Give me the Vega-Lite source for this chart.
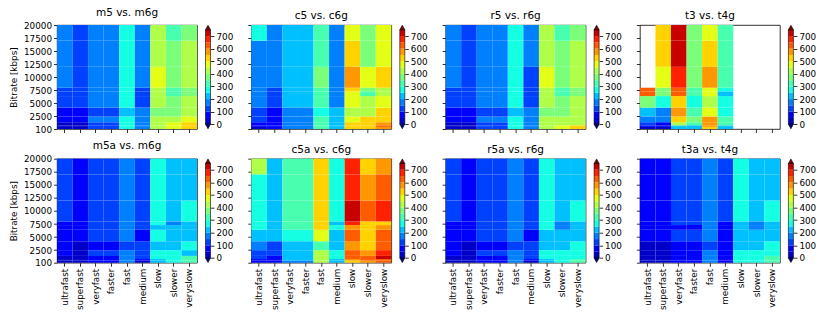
{
"$schema": "https://vega.github.io/schema/vega-lite/v6.json",
"padding": {"left": 9, "top": 7, "right": 5, "bottom": 5},
"config": {
 "font": "DejaVu Sans",
 "view": {"stroke": "#000", "strokeWidth": 0.8},
 "axis": {"grid": false, "domain": false, "ticks": true, "tickColor": "#000", "tickSize": 3.5, "tickWidth": 0.8, "labelColor": "#000", "labelFontSize": 8.8, "labelFont": "DejaVu Sans", "labelPadding": 2, "labelFlush": false, "labelOverlap": false, "titleFont": "DejaVu Sans", "titleFontSize": 8.8, "titleFontWeight": "normal", "titleColor": "#000", "titlePadding": 5},
 "title": {"font": "DejaVu Sans", "fontSize": 10.5, "fontWeight": "normal", "color": "#000", "offset": 3}
},
"datasets": {
 "bands": [{"b":0,"lo":100,"hi":500},{"b":1,"lo":500,"hi":800},{"b":2,"lo":800,"hi":1400},{"b":3,"lo":1400,"hi":2500},{"b":4,"lo":2500,"hi":4200},{"b":5,"lo":4200,"hi":6400},{"b":6,"lo":6400,"hi":7300},{"b":7,"lo":7300,"hi":8000},{"b":8,"lo":8000,"hi":12000},{"b":9,"lo":12000,"hi":17000},{"b":10,"lo":17000,"hi":20000}],
 "cbar": [{"v":0,"v2":50},{"v":50,"v2":100},{"v":100,"v2":150},{"v":150,"v2":200},{"v":200,"v2":250},{"v":250,"v2":300},{"v":300,"v2":350},{"v":350,"v2":400},{"v":400,"v2":450},{"v":450,"v2":500},{"v":500,"v2":550},{"v":550,"v2":600},{"v":600,"v2":650},{"v":650,"v2":700},{"v":700,"v2":750}],
 "m5": [
{"p":"ultrafast","b":0,"v":25},{"p":"ultrafast","b":1,"v":25},{"p":"ultrafast","b":2,"v":25},{"p":"ultrafast","b":3,"v":75},{"p":"ultrafast","b":4,"v":75},{"p":"ultrafast","b":5,"v":125},{"p":"ultrafast","b":6,"v":125},{"p":"ultrafast","b":7,"v":125},{"p":"ultrafast","b":8,"v":175},{"p":"ultrafast","b":9,"v":175},{"p":"ultrafast","b":10,"v":175},
{"p":"superfast","b":0,"v":25},{"p":"superfast","b":1,"v":25},{"p":"superfast","b":2,"v":25},{"p":"superfast","b":3,"v":75},{"p":"superfast","b":4,"v":75},{"p":"superfast","b":5,"v":125},{"p":"superfast","b":6,"v":125},{"p":"superfast","b":7,"v":125},{"p":"superfast","b":8,"v":125},{"p":"superfast","b":9,"v":125},{"p":"superfast","b":10,"v":125},
{"p":"veryfast","b":0,"v":125},{"p":"veryfast","b":1,"v":125},{"p":"veryfast","b":2,"v":125},{"p":"veryfast","b":3,"v":175},{"p":"veryfast","b":4,"v":125},{"p":"veryfast","b":5,"v":175},{"p":"veryfast","b":6,"v":175},{"p":"veryfast","b":7,"v":175},{"p":"veryfast","b":8,"v":175},{"p":"veryfast","b":9,"v":175},{"p":"veryfast","b":10,"v":175},
{"p":"faster","b":0,"v":125},{"p":"faster","b":1,"v":125},{"p":"faster","b":2,"v":125},{"p":"faster","b":3,"v":175},{"p":"faster","b":4,"v":125},{"p":"faster","b":5,"v":175},{"p":"faster","b":6,"v":175},{"p":"faster","b":7,"v":175},{"p":"faster","b":8,"v":175},{"p":"faster","b":9,"v":175},{"p":"faster","b":10,"v":175},
{"p":"fast","b":0,"v":275},{"p":"fast","b":1,"v":275},{"p":"fast","b":2,"v":275},{"p":"fast","b":3,"v":275},{"p":"fast","b":4,"v":225},{"p":"fast","b":5,"v":275},{"p":"fast","b":6,"v":275},{"p":"fast","b":7,"v":275},{"p":"fast","b":8,"v":275},{"p":"fast","b":9,"v":275},{"p":"fast","b":10,"v":275},
{"p":"medium","b":0,"v":175},{"p":"medium","b":1,"v":175},{"p":"medium","b":2,"v":175},{"p":"medium","b":3,"v":175},{"p":"medium","b":4,"v":175},{"p":"medium","b":5,"v":125},{"p":"medium","b":6,"v":125},{"p":"medium","b":7,"v":125},{"p":"medium","b":8,"v":175},{"p":"medium","b":9,"v":175},{"p":"medium","b":10,"v":175},
{"p":"slow","b":0,"v":425},{"p":"slow","b":1,"v":425},{"p":"slow","b":2,"v":425},{"p":"slow","b":3,"v":425},{"p":"slow","b":4,"v":375},{"p":"slow","b":5,"v":425},{"p":"slow","b":6,"v":425},{"p":"slow","b":7,"v":425},{"p":"slow","b":8,"v":475},{"p":"slow","b":9,"v":425},{"p":"slow","b":10,"v":425},
{"p":"slower","b":0,"v":475},{"p":"slower","b":1,"v":475},{"p":"slower","b":2,"v":475},{"p":"slower","b":3,"v":425},{"p":"slower","b":4,"v":375},{"p":"slower","b":5,"v":375},{"p":"slower","b":6,"v":325},{"p":"slower","b":7,"v":325},{"p":"slower","b":8,"v":375},{"p":"slower","b":9,"v":375},{"p":"slower","b":10,"v":325},
{"p":"veryslow","b":0,"v":525},{"p":"veryslow","b":1,"v":525},{"p":"veryslow","b":2,"v":525},{"p":"veryslow","b":3,"v":475},{"p":"veryslow","b":4,"v":425},{"p":"veryslow","b":5,"v":425},{"p":"veryslow","b":6,"v":375},{"p":"veryslow","b":7,"v":375},{"p":"veryslow","b":8,"v":425},{"p":"veryslow","b":9,"v":425},{"p":"veryslow","b":10,"v":375}],
 "c5": [
{"p":"ultrafast","b":0,"v":25},{"p":"ultrafast","b":1,"v":75},{"p":"ultrafast","b":2,"v":75},{"p":"ultrafast","b":3,"v":125},{"p":"ultrafast","b":4,"v":125},{"p":"ultrafast","b":5,"v":175},{"p":"ultrafast","b":6,"v":175},{"p":"ultrafast","b":7,"v":175},{"p":"ultrafast","b":8,"v":175},{"p":"ultrafast","b":9,"v":175},{"p":"ultrafast","b":10,"v":275},
{"p":"superfast","b":0,"v":75},{"p":"superfast","b":1,"v":75},{"p":"superfast","b":2,"v":75},{"p":"superfast","b":3,"v":75},{"p":"superfast","b":4,"v":75},{"p":"superfast","b":5,"v":125},{"p":"superfast","b":6,"v":125},{"p":"superfast","b":7,"v":125},{"p":"superfast","b":8,"v":175},{"p":"superfast","b":9,"v":175},{"p":"superfast","b":10,"v":175},
{"p":"veryfast","b":0,"v":175},{"p":"veryfast","b":1,"v":175},{"p":"veryfast","b":2,"v":175},{"p":"veryfast","b":3,"v":175},{"p":"veryfast","b":4,"v":175},{"p":"veryfast","b":5,"v":225},{"p":"veryfast","b":6,"v":225},{"p":"veryfast","b":7,"v":225},{"p":"veryfast","b":8,"v":225},{"p":"veryfast","b":9,"v":225},{"p":"veryfast","b":10,"v":225},
{"p":"faster","b":0,"v":175},{"p":"faster","b":1,"v":175},{"p":"faster","b":2,"v":175},{"p":"faster","b":3,"v":175},{"p":"faster","b":4,"v":175},{"p":"faster","b":5,"v":225},{"p":"faster","b":6,"v":225},{"p":"faster","b":7,"v":225},{"p":"faster","b":8,"v":225},{"p":"faster","b":9,"v":225},{"p":"faster","b":10,"v":225},
{"p":"fast","b":0,"v":325},{"p":"fast","b":1,"v":325},{"p":"fast","b":2,"v":325},{"p":"fast","b":3,"v":325},{"p":"fast","b":4,"v":275},{"p":"fast","b":5,"v":325},{"p":"fast","b":6,"v":325},{"p":"fast","b":7,"v":325},{"p":"fast","b":8,"v":375},{"p":"fast","b":9,"v":325},{"p":"fast","b":10,"v":325},
{"p":"medium","b":0,"v":225},{"p":"medium","b":1,"v":225},{"p":"medium","b":2,"v":225},{"p":"medium","b":3,"v":225},{"p":"medium","b":4,"v":225},{"p":"medium","b":5,"v":175},{"p":"medium","b":6,"v":175},{"p":"medium","b":7,"v":175},{"p":"medium","b":8,"v":175},{"p":"medium","b":9,"v":175},{"p":"medium","b":10,"v":175},
{"p":"slow","b":0,"v":525},{"p":"slow","b":1,"v":525},{"p":"slow","b":2,"v":525},{"p":"slow","b":3,"v":475},{"p":"slow","b":4,"v":425},{"p":"slow","b":5,"v":475},{"p":"slow","b":6,"v":475},{"p":"slow","b":7,"v":525},{"p":"slow","b":8,"v":575},{"p":"slow","b":9,"v":525},{"p":"slow","b":10,"v":475},
{"p":"slower","b":0,"v":525},{"p":"slower","b":1,"v":525},{"p":"slower","b":2,"v":525},{"p":"slower","b":3,"v":525},{"p":"slower","b":4,"v":425},{"p":"slower","b":5,"v":425},{"p":"slower","b":6,"v":325},{"p":"slower","b":7,"v":375},{"p":"slower","b":8,"v":475},{"p":"slower","b":9,"v":375},{"p":"slower","b":10,"v":375},
{"p":"veryslow","b":0,"v":575},{"p":"veryslow","b":1,"v":625},{"p":"veryslow","b":2,"v":575},{"p":"veryslow","b":3,"v":525},{"p":"veryslow","b":4,"v":525},{"p":"veryslow","b":5,"v":475},{"p":"veryslow","b":6,"v":425},{"p":"veryslow","b":7,"v":425},{"p":"veryslow","b":8,"v":525},{"p":"veryslow","b":9,"v":475},{"p":"veryslow","b":10,"v":475}],
 "r5": [
{"p":"ultrafast","b":0,"v":25},{"p":"ultrafast","b":1,"v":25},{"p":"ultrafast","b":2,"v":25},{"p":"ultrafast","b":3,"v":75},{"p":"ultrafast","b":4,"v":75},{"p":"ultrafast","b":5,"v":125},{"p":"ultrafast","b":6,"v":125},{"p":"ultrafast","b":7,"v":125},{"p":"ultrafast","b":8,"v":175},{"p":"ultrafast","b":9,"v":175},{"p":"ultrafast","b":10,"v":175},
{"p":"superfast","b":0,"v":25},{"p":"superfast","b":1,"v":25},{"p":"superfast","b":2,"v":25},{"p":"superfast","b":3,"v":75},{"p":"superfast","b":4,"v":75},{"p":"superfast","b":5,"v":125},{"p":"superfast","b":6,"v":125},{"p":"superfast","b":7,"v":125},{"p":"superfast","b":8,"v":125},{"p":"superfast","b":9,"v":125},{"p":"superfast","b":10,"v":125},
{"p":"veryfast","b":0,"v":125},{"p":"veryfast","b":1,"v":125},{"p":"veryfast","b":2,"v":125},{"p":"veryfast","b":3,"v":175},{"p":"veryfast","b":4,"v":125},{"p":"veryfast","b":5,"v":175},{"p":"veryfast","b":6,"v":175},{"p":"veryfast","b":7,"v":175},{"p":"veryfast","b":8,"v":175},{"p":"veryfast","b":9,"v":175},{"p":"veryfast","b":10,"v":175},
{"p":"faster","b":0,"v":125},{"p":"faster","b":1,"v":125},{"p":"faster","b":2,"v":125},{"p":"faster","b":3,"v":175},{"p":"faster","b":4,"v":125},{"p":"faster","b":5,"v":175},{"p":"faster","b":6,"v":175},{"p":"faster","b":7,"v":175},{"p":"faster","b":8,"v":175},{"p":"faster","b":9,"v":175},{"p":"faster","b":10,"v":175},
{"p":"fast","b":0,"v":275},{"p":"fast","b":1,"v":275},{"p":"fast","b":2,"v":275},{"p":"fast","b":3,"v":275},{"p":"fast","b":4,"v":225},{"p":"fast","b":5,"v":275},{"p":"fast","b":6,"v":275},{"p":"fast","b":7,"v":275},{"p":"fast","b":8,"v":275},{"p":"fast","b":9,"v":275},{"p":"fast","b":10,"v":275},
{"p":"medium","b":0,"v":175},{"p":"medium","b":1,"v":175},{"p":"medium","b":2,"v":175},{"p":"medium","b":3,"v":175},{"p":"medium","b":4,"v":175},{"p":"medium","b":5,"v":125},{"p":"medium","b":6,"v":125},{"p":"medium","b":7,"v":125},{"p":"medium","b":8,"v":125},{"p":"medium","b":9,"v":175},{"p":"medium","b":10,"v":175},
{"p":"slow","b":0,"v":425},{"p":"slow","b":1,"v":425},{"p":"slow","b":2,"v":425},{"p":"slow","b":3,"v":425},{"p":"slow","b":4,"v":375},{"p":"slow","b":5,"v":425},{"p":"slow","b":6,"v":425},{"p":"slow","b":7,"v":425},{"p":"slow","b":8,"v":475},{"p":"slow","b":9,"v":425},{"p":"slow","b":10,"v":425},
{"p":"slower","b":0,"v":475},{"p":"slower","b":1,"v":475},{"p":"slower","b":2,"v":425},{"p":"slower","b":3,"v":425},{"p":"slower","b":4,"v":375},{"p":"slower","b":5,"v":375},{"p":"slower","b":6,"v":325},{"p":"slower","b":7,"v":325},{"p":"slower","b":8,"v":375},{"p":"slower","b":9,"v":375},{"p":"slower","b":10,"v":325},
{"p":"veryslow","b":0,"v":525},{"p":"veryslow","b":1,"v":525},{"p":"veryslow","b":2,"v":425},{"p":"veryslow","b":3,"v":425},{"p":"veryslow","b":4,"v":425},{"p":"veryslow","b":5,"v":425},{"p":"veryslow","b":6,"v":375},{"p":"veryslow","b":7,"v":375},{"p":"veryslow","b":8,"v":425},{"p":"veryslow","b":9,"v":425},{"p":"veryslow","b":10,"v":375}],
 "t3": [
{"p":"ultrafast","b":0,"v":25},{"p":"ultrafast","b":1,"v":75},{"p":"ultrafast","b":2,"v":125},{"p":"ultrafast","b":3,"v":175},{"p":"ultrafast","b":4,"v":225},{"p":"ultrafast","b":5,"v":375},{"p":"ultrafast","b":6,"v":625},{"p":"ultrafast","b":7,"v":625},
{"p":"superfast","b":0,"v":25},{"p":"superfast","b":1,"v":75},{"p":"superfast","b":2,"v":75},{"p":"superfast","b":3,"v":175},{"p":"superfast","b":4,"v":175},{"p":"superfast","b":5,"v":275},{"p":"superfast","b":6,"v":375},{"p":"superfast","b":7,"v":375},{"p":"superfast","b":8,"v":475},{"p":"superfast","b":9,"v":525},{"p":"superfast","b":10,"v":525},
{"p":"veryfast","b":0,"v":225},{"p":"veryfast","b":1,"v":225},{"p":"veryfast","b":2,"v":425},{"p":"veryfast","b":3,"v":525},{"p":"veryfast","b":4,"v":575},{"p":"veryfast","b":5,"v":525},{"p":"veryfast","b":6,"v":625},{"p":"veryfast","b":7,"v":625},{"p":"veryfast","b":8,"v":675},{"p":"veryfast","b":9,"v":725},{"p":"veryfast","b":10,"v":725},
{"p":"faster","b":0,"v":225},{"p":"faster","b":1,"v":225},{"p":"faster","b":2,"v":325},{"p":"faster","b":3,"v":375},{"p":"faster","b":4,"v":325},{"p":"faster","b":5,"v":275},{"p":"faster","b":6,"v":325},{"p":"faster","b":7,"v":325},{"p":"faster","b":8,"v":375},{"p":"faster","b":9,"v":375},{"p":"faster","b":10,"v":375},
{"p":"fast","b":0,"v":525},{"p":"fast","b":1,"v":575},{"p":"fast","b":2,"v":575},{"p":"fast","b":3,"v":575},{"p":"fast","b":4,"v":475},{"p":"fast","b":5,"v":425},{"p":"fast","b":6,"v":475},{"p":"fast","b":7,"v":475},{"p":"fast","b":8,"v":575},{"p":"fast","b":9,"v":525},{"p":"fast","b":10,"v":475},
{"p":"medium","b":0,"v":225},{"p":"medium","b":1,"v":225},{"p":"medium","b":2,"v":325},{"p":"medium","b":3,"v":325},{"p":"medium","b":4,"v":275},{"p":"medium","b":5,"v":275},{"p":"medium","b":6,"v":225},{"p":"medium","b":7,"v":275},{"p":"medium","b":8,"v":325},{"p":"medium","b":9,"v":325},{"p":"medium","b":10,"v":325}],
 "m5a": [
{"p":"ultrafast","b":0,"v":25},{"p":"ultrafast","b":1,"v":25},{"p":"ultrafast","b":2,"v":25},{"p":"ultrafast","b":3,"v":75},{"p":"ultrafast","b":4,"v":75},{"p":"ultrafast","b":5,"v":75},{"p":"ultrafast","b":6,"v":75},{"p":"ultrafast","b":7,"v":75},{"p":"ultrafast","b":8,"v":125},{"p":"ultrafast","b":9,"v":125},{"p":"ultrafast","b":10,"v":125},
{"p":"superfast","b":0,"v":25},{"p":"superfast","b":1,"v":25},{"p":"superfast","b":2,"v":25},{"p":"superfast","b":3,"v":25},{"p":"superfast","b":4,"v":25},{"p":"superfast","b":5,"v":75},{"p":"superfast","b":6,"v":75},{"p":"superfast","b":7,"v":75},{"p":"superfast","b":8,"v":75},{"p":"superfast","b":9,"v":75},{"p":"superfast","b":10,"v":75},
{"p":"veryfast","b":0,"v":75},{"p":"veryfast","b":1,"v":75},{"p":"veryfast","b":2,"v":75},{"p":"veryfast","b":3,"v":125},{"p":"veryfast","b":4,"v":75},{"p":"veryfast","b":5,"v":125},{"p":"veryfast","b":6,"v":125},{"p":"veryfast","b":7,"v":125},{"p":"veryfast","b":8,"v":125},{"p":"veryfast","b":9,"v":125},{"p":"veryfast","b":10,"v":125},
{"p":"faster","b":0,"v":75},{"p":"faster","b":1,"v":75},{"p":"faster","b":2,"v":75},{"p":"faster","b":3,"v":125},{"p":"faster","b":4,"v":75},{"p":"faster","b":5,"v":125},{"p":"faster","b":6,"v":125},{"p":"faster","b":7,"v":125},{"p":"faster","b":8,"v":125},{"p":"faster","b":9,"v":125},{"p":"faster","b":10,"v":125},
{"p":"fast","b":0,"v":175},{"p":"fast","b":1,"v":175},{"p":"fast","b":2,"v":175},{"p":"fast","b":3,"v":175},{"p":"fast","b":4,"v":125},{"p":"fast","b":5,"v":175},{"p":"fast","b":6,"v":175},{"p":"fast","b":7,"v":175},{"p":"fast","b":8,"v":175},{"p":"fast","b":9,"v":175},{"p":"fast","b":10,"v":175},
{"p":"medium","b":0,"v":25},{"p":"medium","b":1,"v":75},{"p":"medium","b":2,"v":125},{"p":"medium","b":3,"v":125},{"p":"medium","b":4,"v":125},{"p":"medium","b":5,"v":75},{"p":"medium","b":6,"v":125},{"p":"medium","b":7,"v":125},{"p":"medium","b":8,"v":125},{"p":"medium","b":9,"v":125},{"p":"medium","b":10,"v":125},
{"p":"slow","b":0,"v":225},{"p":"slow","b":1,"v":225},{"p":"slow","b":2,"v":275},{"p":"slow","b":3,"v":275},{"p":"slow","b":4,"v":225},{"p":"slow","b":5,"v":275},{"p":"slow","b":6,"v":225},{"p":"slow","b":7,"v":275},{"p":"slow","b":8,"v":275},{"p":"slow","b":9,"v":275},{"p":"slow","b":10,"v":275},
{"p":"slower","b":0,"v":275},{"p":"slower","b":1,"v":275},{"p":"slower","b":2,"v":275},{"p":"slower","b":3,"v":275},{"p":"slower","b":4,"v":225},{"p":"slower","b":5,"v":225},{"p":"slower","b":6,"v":225},{"p":"slower","b":7,"v":175},{"p":"slower","b":8,"v":225},{"p":"slower","b":9,"v":225},{"p":"slower","b":10,"v":225},
{"p":"veryslow","b":0,"v":325},{"p":"veryslow","b":1,"v":325},{"p":"veryslow","b":2,"v":325},{"p":"veryslow","b":3,"v":225},{"p":"veryslow","b":4,"v":275},{"p":"veryslow","b":5,"v":225},{"p":"veryslow","b":6,"v":225},{"p":"veryslow","b":7,"v":225},{"p":"veryslow","b":8,"v":275},{"p":"veryslow","b":9,"v":225},{"p":"veryslow","b":10,"v":225}],
 "c5a": [
{"p":"ultrafast","b":0,"v":75},{"p":"ultrafast","b":1,"v":75},{"p":"ultrafast","b":2,"v":125},{"p":"ultrafast","b":3,"v":125},{"p":"ultrafast","b":4,"v":175},{"p":"ultrafast","b":5,"v":225},{"p":"ultrafast","b":6,"v":275},{"p":"ultrafast","b":7,"v":275},{"p":"ultrafast","b":8,"v":275},{"p":"ultrafast","b":9,"v":275},{"p":"ultrafast","b":10,"v":425},
{"p":"superfast","b":0,"v":75},{"p":"superfast","b":1,"v":75},{"p":"superfast","b":2,"v":75},{"p":"superfast","b":3,"v":125},{"p":"superfast","b":4,"v":125},{"p":"superfast","b":5,"v":225},{"p":"superfast","b":6,"v":225},{"p":"superfast","b":7,"v":225},{"p":"superfast","b":8,"v":225},{"p":"superfast","b":9,"v":225},{"p":"superfast","b":10,"v":225},
{"p":"veryfast","b":0,"v":175},{"p":"veryfast","b":1,"v":225},{"p":"veryfast","b":2,"v":225},{"p":"veryfast","b":3,"v":225},{"p":"veryfast","b":4,"v":225},{"p":"veryfast","b":5,"v":275},{"p":"veryfast","b":6,"v":325},{"p":"veryfast","b":7,"v":325},{"p":"veryfast","b":8,"v":325},{"p":"veryfast","b":9,"v":325},{"p":"veryfast","b":10,"v":325},
{"p":"faster","b":0,"v":175},{"p":"faster","b":1,"v":225},{"p":"faster","b":2,"v":225},{"p":"faster","b":3,"v":225},{"p":"faster","b":4,"v":225},{"p":"faster","b":5,"v":275},{"p":"faster","b":6,"v":325},{"p":"faster","b":7,"v":325},{"p":"faster","b":8,"v":325},{"p":"faster","b":9,"v":325},{"p":"faster","b":10,"v":325},
{"p":"fast","b":0,"v":425},{"p":"fast","b":1,"v":425},{"p":"fast","b":2,"v":425},{"p":"fast","b":3,"v":425},{"p":"fast","b":4,"v":325},{"p":"fast","b":5,"v":475},{"p":"fast","b":6,"v":525},{"p":"fast","b":7,"v":525},{"p":"fast","b":8,"v":525},{"p":"fast","b":9,"v":525},{"p":"fast","b":10,"v":525},
{"p":"medium","b":0,"v":225},{"p":"medium","b":1,"v":225},{"p":"medium","b":2,"v":275},{"p":"medium","b":3,"v":275},{"p":"medium","b":4,"v":225},{"p":"medium","b":5,"v":225},{"p":"medium","b":6,"v":275},{"p":"medium","b":7,"v":225},{"p":"medium","b":8,"v":275},{"p":"medium","b":9,"v":275},{"p":"medium","b":10,"v":275},
{"p":"slow","b":0,"v":525},{"p":"slow","b":1,"v":575},{"p":"slow","b":2,"v":625},{"p":"slow","b":3,"v":625},{"p":"slow","b":4,"v":575},{"p":"slow","b":5,"v":625},{"p":"slow","b":6,"v":575},{"p":"slow","b":7,"v":675},{"p":"slow","b":8,"v":725},{"p":"slow","b":9,"v":675},{"p":"slow","b":10,"v":675},
{"p":"slower","b":0,"v":575},{"p":"slower","b":1,"v":625},{"p":"slower","b":2,"v":625},{"p":"slower","b":3,"v":575},{"p":"slower","b":4,"v":525},{"p":"slower","b":5,"v":525},{"p":"slower","b":6,"v":525},{"p":"slower","b":7,"v":525},{"p":"slower","b":8,"v":625},{"p":"slower","b":9,"v":575},{"p":"slower","b":10,"v":525},
{"p":"veryslow","b":0,"v":625},{"p":"veryslow","b":1,"v":625},{"p":"veryslow","b":2,"v":725},{"p":"veryslow","b":3,"v":675},{"p":"veryslow","b":4,"v":625},{"p":"veryslow","b":5,"v":625},{"p":"veryslow","b":6,"v":575},{"p":"veryslow","b":7,"v":525},{"p":"veryslow","b":8,"v":675},{"p":"veryslow","b":9,"v":625},{"p":"veryslow","b":10,"v":575}],
 "r5a": [
{"p":"ultrafast","b":0,"v":25},{"p":"ultrafast","b":1,"v":25},{"p":"ultrafast","b":2,"v":25},{"p":"ultrafast","b":3,"v":75},{"p":"ultrafast","b":4,"v":75},{"p":"ultrafast","b":5,"v":75},{"p":"ultrafast","b":6,"v":75},{"p":"ultrafast","b":7,"v":75},{"p":"ultrafast","b":8,"v":125},{"p":"ultrafast","b":9,"v":125},{"p":"ultrafast","b":10,"v":125},
{"p":"superfast","b":0,"v":25},{"p":"superfast","b":1,"v":25},{"p":"superfast","b":2,"v":25},{"p":"superfast","b":3,"v":25},{"p":"superfast","b":4,"v":25},{"p":"superfast","b":5,"v":75},{"p":"superfast","b":6,"v":75},{"p":"superfast","b":7,"v":75},{"p":"superfast","b":8,"v":75},{"p":"superfast","b":9,"v":75},{"p":"superfast","b":10,"v":75},
{"p":"veryfast","b":0,"v":75},{"p":"veryfast","b":1,"v":75},{"p":"veryfast","b":2,"v":75},{"p":"veryfast","b":3,"v":125},{"p":"veryfast","b":4,"v":75},{"p":"veryfast","b":5,"v":125},{"p":"veryfast","b":6,"v":125},{"p":"veryfast","b":7,"v":125},{"p":"veryfast","b":8,"v":125},{"p":"veryfast","b":9,"v":125},{"p":"veryfast","b":10,"v":125},
{"p":"faster","b":0,"v":75},{"p":"faster","b":1,"v":75},{"p":"faster","b":2,"v":75},{"p":"faster","b":3,"v":125},{"p":"faster","b":4,"v":75},{"p":"faster","b":5,"v":125},{"p":"faster","b":6,"v":125},{"p":"faster","b":7,"v":125},{"p":"faster","b":8,"v":125},{"p":"faster","b":9,"v":125},{"p":"faster","b":10,"v":125},
{"p":"fast","b":0,"v":175},{"p":"fast","b":1,"v":175},{"p":"fast","b":2,"v":175},{"p":"fast","b":3,"v":175},{"p":"fast","b":4,"v":125},{"p":"fast","b":5,"v":175},{"p":"fast","b":6,"v":175},{"p":"fast","b":7,"v":175},{"p":"fast","b":8,"v":175},{"p":"fast","b":9,"v":175},{"p":"fast","b":10,"v":175},
{"p":"medium","b":0,"v":25},{"p":"medium","b":1,"v":75},{"p":"medium","b":2,"v":125},{"p":"medium","b":3,"v":125},{"p":"medium","b":4,"v":125},{"p":"medium","b":5,"v":75},{"p":"medium","b":6,"v":125},{"p":"medium","b":7,"v":125},{"p":"medium","b":8,"v":125},{"p":"medium","b":9,"v":125},{"p":"medium","b":10,"v":125},
{"p":"slow","b":0,"v":225},{"p":"slow","b":1,"v":225},{"p":"slow","b":2,"v":275},{"p":"slow","b":3,"v":275},{"p":"slow","b":4,"v":225},{"p":"slow","b":5,"v":225},{"p":"slow","b":6,"v":275},{"p":"slow","b":7,"v":275},{"p":"slow","b":8,"v":275},{"p":"slow","b":9,"v":275},{"p":"slow","b":10,"v":275},
{"p":"slower","b":0,"v":275},{"p":"slower","b":1,"v":275},{"p":"slower","b":2,"v":275},{"p":"slower","b":3,"v":275},{"p":"slower","b":4,"v":225},{"p":"slower","b":5,"v":225},{"p":"slower","b":6,"v":175},{"p":"slower","b":7,"v":175},{"p":"slower","b":8,"v":225},{"p":"slower","b":9,"v":225},{"p":"slower","b":10,"v":225},
{"p":"veryslow","b":0,"v":325},{"p":"veryslow","b":1,"v":325},{"p":"veryslow","b":2,"v":275},{"p":"veryslow","b":3,"v":275},{"p":"veryslow","b":4,"v":275},{"p":"veryslow","b":5,"v":225},{"p":"veryslow","b":6,"v":225},{"p":"veryslow","b":7,"v":225},{"p":"veryslow","b":8,"v":275},{"p":"veryslow","b":9,"v":225},{"p":"veryslow","b":10,"v":225}],
 "t3a": [
{"p":"ultrafast","b":0,"v":25},{"p":"ultrafast","b":1,"v":25},{"p":"ultrafast","b":2,"v":25},{"p":"ultrafast","b":3,"v":25},{"p":"ultrafast","b":4,"v":25},{"p":"ultrafast","b":5,"v":75},{"p":"ultrafast","b":6,"v":75},{"p":"ultrafast","b":7,"v":75},{"p":"ultrafast","b":8,"v":75},{"p":"ultrafast","b":9,"v":75},{"p":"ultrafast","b":10,"v":75},
{"p":"superfast","b":0,"v":25},{"p":"superfast","b":1,"v":25},{"p":"superfast","b":2,"v":25},{"p":"superfast","b":3,"v":25},{"p":"superfast","b":4,"v":25},{"p":"superfast","b":5,"v":75},{"p":"superfast","b":6,"v":75},{"p":"superfast","b":7,"v":75},{"p":"superfast","b":8,"v":75},{"p":"superfast","b":9,"v":75},{"p":"superfast","b":10,"v":75},
{"p":"veryfast","b":0,"v":75},{"p":"veryfast","b":1,"v":75},{"p":"veryfast","b":2,"v":75},{"p":"veryfast","b":3,"v":75},{"p":"veryfast","b":4,"v":75},{"p":"veryfast","b":5,"v":125},{"p":"veryfast","b":6,"v":75},{"p":"veryfast","b":7,"v":125},{"p":"veryfast","b":8,"v":125},{"p":"veryfast","b":9,"v":125},{"p":"veryfast","b":10,"v":125},
{"p":"faster","b":0,"v":75},{"p":"faster","b":1,"v":75},{"p":"faster","b":2,"v":75},{"p":"faster","b":3,"v":75},{"p":"faster","b":4,"v":75},{"p":"faster","b":5,"v":125},{"p":"faster","b":6,"v":75},{"p":"faster","b":7,"v":125},{"p":"faster","b":8,"v":125},{"p":"faster","b":9,"v":125},{"p":"faster","b":10,"v":125},
{"p":"fast","b":0,"v":175},{"p":"fast","b":1,"v":175},{"p":"fast","b":2,"v":175},{"p":"fast","b":3,"v":175},{"p":"fast","b":4,"v":125},{"p":"fast","b":5,"v":175},{"p":"fast","b":6,"v":175},{"p":"fast","b":7,"v":175},{"p":"fast","b":8,"v":175},{"p":"fast","b":9,"v":175},{"p":"fast","b":10,"v":175},
{"p":"medium","b":0,"v":75},{"p":"medium","b":1,"v":75},{"p":"medium","b":2,"v":75},{"p":"medium","b":3,"v":75},{"p":"medium","b":4,"v":75},{"p":"medium","b":5,"v":75},{"p":"medium","b":6,"v":75},{"p":"medium","b":7,"v":75},{"p":"medium","b":8,"v":125},{"p":"medium","b":9,"v":125},{"p":"medium","b":10,"v":125},
{"p":"slow","b":0,"v":275},{"p":"slow","b":1,"v":275},{"p":"slow","b":2,"v":275},{"p":"slow","b":3,"v":275},{"p":"slow","b":4,"v":225},{"p":"slow","b":5,"v":225},{"p":"slow","b":6,"v":225},{"p":"slow","b":7,"v":225},{"p":"slow","b":8,"v":275},{"p":"slow","b":9,"v":275},{"p":"slow","b":10,"v":275},
{"p":"slower","b":0,"v":275},{"p":"slower","b":1,"v":275},{"p":"slower","b":2,"v":275},{"p":"slower","b":3,"v":275},{"p":"slower","b":4,"v":225},{"p":"slower","b":5,"v":225},{"p":"slower","b":6,"v":175},{"p":"slower","b":7,"v":175},{"p":"slower","b":8,"v":225},{"p":"slower","b":9,"v":225},{"p":"slower","b":10,"v":225},
{"p":"veryslow","b":0,"v":325},{"p":"veryslow","b":1,"v":325},{"p":"veryslow","b":2,"v":325},{"p":"veryslow","b":3,"v":275},{"p":"veryslow","b":4,"v":275},{"p":"veryslow","b":5,"v":225},{"p":"veryslow","b":6,"v":225},{"p":"veryslow","b":7,"v":225},{"p":"veryslow","b":8,"v":275},{"p":"veryslow","b":9,"v":225},{"p":"veryslow","b":10,"v":225}]
},
"spacing": 5.7,
"resolve": {"scale": {"x": "independent", "y": "independent"}},
"vconcat": [
 {"spacing": 13.3, "resolve": {"scale": {"x": "independent", "y": "independent"}}, "hconcat": [
  {"spacing": 8.5, "bounds": "flush", "resolve": {"scale": {"x": "independent", "y": "independent"}}, "hconcat": [
   {"title": "m5 vs. m6g", "width": 140, "height": 104, "data": {"name": "m5"},
    "transform": [{"lookup": "b", "from": {"data": {"name": "bands"}, "key": "b", "fields": ["lo", "hi"]}}],
    "mark": {"type": "rect"},
    "encoding": {
     "x": {"field": "p", "type": "nominal", "scale": {"domain": ["ultrafast","superfast","veryfast","faster","fast","medium","slow","slower","veryslow"], "paddingInner": 0, "paddingOuter": 0}, "axis": {"title": null, "labels": false}},
     "y": {"field": "lo", "type": "quantitative", "scale": {"domain": [100, 20000], "nice": false, "zero": false}, "axis": {"values": [100,2500,5000,7500,10000,12500,15000,17500,20000], "format": "d", "title": "Bitrate [kbps]"}},
     "y2": {"field": "hi"},
     "color": {"field": "v", "type": "quantitative", "scale": {"type": "threshold", "domain": [50,100,150,200,250,300,350,400,450,500,550,600,650,700], "range": ["#0000c8","#0000ff","#0040ff","#0080ff","#00c0ff","#15ffe2","#48ffaf","#7bff7b","#afff48","#e2ff15","#ffd200","#ff9700","#ff5c00","#ff2100","#c80000"]}, "legend": null}
    }},
   {"width": 5, "height": 104, "view": {"stroke": null}, "layer": [
    {"data": {"name": "cbar"}, "mark": {"type": "rect"}, "encoding": {"y": {"field": "v", "type": "quantitative", "scale": {"domain": [-37.5, 787.5], "nice": false, "zero": false}, "axis": {"orient": "right", "values": [0,100,200,300,400,500,600,700], "format": "d", "title": null, "labelOverlap": false, "labelFlush": false}}, "y2": {"field": "v2"}, "color": {"field": "v", "type": "quantitative", "scale": {"type": "threshold", "domain": [50,100,150,200,250,300,350,400,450,500,550,600,650,700], "range": ["#0000c8","#0000ff","#0040ff","#0080ff","#00c0ff","#15ffe2","#48ffaf","#7bff7b","#afff48","#e2ff15","#ffd200","#ff9700","#ff5c00","#ff2100","#c80000"]}, "legend": null}}},
    {"data": {"values": [{"v": 0, "v2": 750}]}, "mark": {"type": "rect", "filled": false, "stroke": "#000", "strokeWidth": 0.6}, "encoding": {"y": {"field": "v", "type": "quantitative", "scale": {"domain": [-37.5, 787.5], "nice": false, "zero": false}, "axis": {"orient": "right", "values": [0,100,200,300,400,500,600,700], "format": "d", "title": null, "labelOverlap": false, "labelFlush": false}}, "y2": {"field": "v2"}}},
    {"data": {"values": [{"v": 750}]}, "mark": {"type": "point", "shape": "M-1,0L1,0L0,-1.8Z", "size": 25, "filled": true, "fill": "#800000", "stroke": "#000", "strokeWidth": 0.6, "opacity": 1}, "encoding": {"y": {"field": "v", "type": "quantitative", "scale": {"domain": [-37.5, 787.5], "nice": false, "zero": false}, "axis": {"orient": "right", "values": [0,100,200,300,400,500,600,700], "format": "d", "title": null, "labelOverlap": false, "labelFlush": false}}}},
    {"data": {"values": [{"v": 0}]}, "mark": {"type": "point", "shape": "M-1,0L1,0L0,1.8Z", "size": 25, "filled": true, "fill": "#000080", "stroke": "#000", "strokeWidth": 0.6, "opacity": 1}, "encoding": {"y": {"field": "v", "type": "quantitative", "scale": {"domain": [-37.5, 787.5], "nice": false, "zero": false}, "axis": {"orient": "right", "values": [0,100,200,300,400,500,600,700], "format": "d", "title": null, "labelOverlap": false, "labelFlush": false}}}}
   ]}
  ]},
  {"spacing": 8.5, "bounds": "flush", "resolve": {"scale": {"x": "independent", "y": "independent"}}, "hconcat": [
   {"title": "c5 vs. c6g", "width": 140, "height": 104, "data": {"name": "c5"},
    "transform": [{"lookup": "b", "from": {"data": {"name": "bands"}, "key": "b", "fields": ["lo", "hi"]}}],
    "mark": {"type": "rect"},
    "encoding": {
     "x": {"field": "p", "type": "nominal", "scale": {"domain": ["ultrafast","superfast","veryfast","faster","fast","medium","slow","slower","veryslow"], "paddingInner": 0, "paddingOuter": 0}, "axis": {"title": null, "labels": false}},
     "y": {"field": "lo", "type": "quantitative", "scale": {"domain": [100, 20000], "nice": false, "zero": false}, "axis": {"values": [100,2500,5000,7500,10000,12500,15000,17500,20000], "title": null, "labels": false}},
     "y2": {"field": "hi"},
     "color": {"field": "v", "type": "quantitative", "scale": {"type": "threshold", "domain": [50,100,150,200,250,300,350,400,450,500,550,600,650,700], "range": ["#0000c8","#0000ff","#0040ff","#0080ff","#00c0ff","#15ffe2","#48ffaf","#7bff7b","#afff48","#e2ff15","#ffd200","#ff9700","#ff5c00","#ff2100","#c80000"]}, "legend": null}
    }},
   {"width": 5, "height": 104, "view": {"stroke": null}, "layer": [
    {"data": {"name": "cbar"}, "mark": {"type": "rect"}, "encoding": {"y": {"field": "v", "type": "quantitative", "scale": {"domain": [-37.5, 787.5], "nice": false, "zero": false}, "axis": {"orient": "right", "values": [0,100,200,300,400,500,600,700], "format": "d", "title": null, "labelOverlap": false, "labelFlush": false}}, "y2": {"field": "v2"}, "color": {"field": "v", "type": "quantitative", "scale": {"type": "threshold", "domain": [50,100,150,200,250,300,350,400,450,500,550,600,650,700], "range": ["#0000c8","#0000ff","#0040ff","#0080ff","#00c0ff","#15ffe2","#48ffaf","#7bff7b","#afff48","#e2ff15","#ffd200","#ff9700","#ff5c00","#ff2100","#c80000"]}, "legend": null}}},
    {"data": {"values": [{"v": 0, "v2": 750}]}, "mark": {"type": "rect", "filled": false, "stroke": "#000", "strokeWidth": 0.6}, "encoding": {"y": {"field": "v", "type": "quantitative", "scale": {"domain": [-37.5, 787.5], "nice": false, "zero": false}, "axis": {"orient": "right", "values": [0,100,200,300,400,500,600,700], "format": "d", "title": null, "labelOverlap": false, "labelFlush": false}}, "y2": {"field": "v2"}}},
    {"data": {"values": [{"v": 750}]}, "mark": {"type": "point", "shape": "M-1,0L1,0L0,-1.8Z", "size": 25, "filled": true, "fill": "#800000", "stroke": "#000", "strokeWidth": 0.6, "opacity": 1}, "encoding": {"y": {"field": "v", "type": "quantitative", "scale": {"domain": [-37.5, 787.5], "nice": false, "zero": false}, "axis": {"orient": "right", "values": [0,100,200,300,400,500,600,700], "format": "d", "title": null, "labelOverlap": false, "labelFlush": false}}}},
    {"data": {"values": [{"v": 0}]}, "mark": {"type": "point", "shape": "M-1,0L1,0L0,1.8Z", "size": 25, "filled": true, "fill": "#000080", "stroke": "#000", "strokeWidth": 0.6, "opacity": 1}, "encoding": {"y": {"field": "v", "type": "quantitative", "scale": {"domain": [-37.5, 787.5], "nice": false, "zero": false}, "axis": {"orient": "right", "values": [0,100,200,300,400,500,600,700], "format": "d", "title": null, "labelOverlap": false, "labelFlush": false}}}}
   ]}
  ]},
  {"spacing": 8.5, "bounds": "flush", "resolve": {"scale": {"x": "independent", "y": "independent"}}, "hconcat": [
   {"title": "r5 vs. r6g", "width": 140, "height": 104, "data": {"name": "r5"},
    "transform": [{"lookup": "b", "from": {"data": {"name": "bands"}, "key": "b", "fields": ["lo", "hi"]}}],
    "mark": {"type": "rect"},
    "encoding": {
     "x": {"field": "p", "type": "nominal", "scale": {"domain": ["ultrafast","superfast","veryfast","faster","fast","medium","slow","slower","veryslow"], "paddingInner": 0, "paddingOuter": 0}, "axis": {"title": null, "labels": false}},
     "y": {"field": "lo", "type": "quantitative", "scale": {"domain": [100, 20000], "nice": false, "zero": false}, "axis": {"values": [100,2500,5000,7500,10000,12500,15000,17500,20000], "title": null, "labels": false}},
     "y2": {"field": "hi"},
     "color": {"field": "v", "type": "quantitative", "scale": {"type": "threshold", "domain": [50,100,150,200,250,300,350,400,450,500,550,600,650,700], "range": ["#0000c8","#0000ff","#0040ff","#0080ff","#00c0ff","#15ffe2","#48ffaf","#7bff7b","#afff48","#e2ff15","#ffd200","#ff9700","#ff5c00","#ff2100","#c80000"]}, "legend": null}
    }},
   {"width": 5, "height": 104, "view": {"stroke": null}, "layer": [
    {"data": {"name": "cbar"}, "mark": {"type": "rect"}, "encoding": {"y": {"field": "v", "type": "quantitative", "scale": {"domain": [-37.5, 787.5], "nice": false, "zero": false}, "axis": {"orient": "right", "values": [0,100,200,300,400,500,600,700], "format": "d", "title": null, "labelOverlap": false, "labelFlush": false}}, "y2": {"field": "v2"}, "color": {"field": "v", "type": "quantitative", "scale": {"type": "threshold", "domain": [50,100,150,200,250,300,350,400,450,500,550,600,650,700], "range": ["#0000c8","#0000ff","#0040ff","#0080ff","#00c0ff","#15ffe2","#48ffaf","#7bff7b","#afff48","#e2ff15","#ffd200","#ff9700","#ff5c00","#ff2100","#c80000"]}, "legend": null}}},
    {"data": {"values": [{"v": 0, "v2": 750}]}, "mark": {"type": "rect", "filled": false, "stroke": "#000", "strokeWidth": 0.6}, "encoding": {"y": {"field": "v", "type": "quantitative", "scale": {"domain": [-37.5, 787.5], "nice": false, "zero": false}, "axis": {"orient": "right", "values": [0,100,200,300,400,500,600,700], "format": "d", "title": null, "labelOverlap": false, "labelFlush": false}}, "y2": {"field": "v2"}}},
    {"data": {"values": [{"v": 750}]}, "mark": {"type": "point", "shape": "M-1,0L1,0L0,-1.8Z", "size": 25, "filled": true, "fill": "#800000", "stroke": "#000", "strokeWidth": 0.6, "opacity": 1}, "encoding": {"y": {"field": "v", "type": "quantitative", "scale": {"domain": [-37.5, 787.5], "nice": false, "zero": false}, "axis": {"orient": "right", "values": [0,100,200,300,400,500,600,700], "format": "d", "title": null, "labelOverlap": false, "labelFlush": false}}}},
    {"data": {"values": [{"v": 0}]}, "mark": {"type": "point", "shape": "M-1,0L1,0L0,1.8Z", "size": 25, "filled": true, "fill": "#000080", "stroke": "#000", "strokeWidth": 0.6, "opacity": 1}, "encoding": {"y": {"field": "v", "type": "quantitative", "scale": {"domain": [-37.5, 787.5], "nice": false, "zero": false}, "axis": {"orient": "right", "values": [0,100,200,300,400,500,600,700], "format": "d", "title": null, "labelOverlap": false, "labelFlush": false}}}}
   ]}
  ]},
  {"spacing": 8.5, "bounds": "flush", "resolve": {"scale": {"x": "independent", "y": "independent"}}, "hconcat": [
   {"title": "t3 vs. t4g", "width": 140, "height": 104, "data": {"name": "t3"},
    "transform": [{"lookup": "b", "from": {"data": {"name": "bands"}, "key": "b", "fields": ["lo", "hi"]}}],
    "mark": {"type": "rect"},
    "encoding": {
     "x": {"field": "p", "type": "nominal", "scale": {"domain": ["ultrafast","superfast","veryfast","faster","fast","medium","slow","slower","veryslow"], "paddingInner": 0, "paddingOuter": 0}, "axis": {"title": null, "labels": false}},
     "y": {"field": "lo", "type": "quantitative", "scale": {"domain": [100, 20000], "nice": false, "zero": false}, "axis": {"values": [100,2500,5000,7500,10000,12500,15000,17500,20000], "title": null, "labels": false}},
     "y2": {"field": "hi"},
     "color": {"field": "v", "type": "quantitative", "scale": {"type": "threshold", "domain": [50,100,150,200,250,300,350,400,450,500,550,600,650,700], "range": ["#0000c8","#0000ff","#0040ff","#0080ff","#00c0ff","#15ffe2","#48ffaf","#7bff7b","#afff48","#e2ff15","#ffd200","#ff9700","#ff5c00","#ff2100","#c80000"]}, "legend": null}
    }},
   {"width": 5, "height": 104, "view": {"stroke": null}, "layer": [
    {"data": {"name": "cbar"}, "mark": {"type": "rect"}, "encoding": {"y": {"field": "v", "type": "quantitative", "scale": {"domain": [-37.5, 787.5], "nice": false, "zero": false}, "axis": {"orient": "right", "values": [0,100,200,300,400,500,600,700], "format": "d", "title": null, "labelOverlap": false, "labelFlush": false}}, "y2": {"field": "v2"}, "color": {"field": "v", "type": "quantitative", "scale": {"type": "threshold", "domain": [50,100,150,200,250,300,350,400,450,500,550,600,650,700], "range": ["#0000c8","#0000ff","#0040ff","#0080ff","#00c0ff","#15ffe2","#48ffaf","#7bff7b","#afff48","#e2ff15","#ffd200","#ff9700","#ff5c00","#ff2100","#c80000"]}, "legend": null}}},
    {"data": {"values": [{"v": 0, "v2": 750}]}, "mark": {"type": "rect", "filled": false, "stroke": "#000", "strokeWidth": 0.6}, "encoding": {"y": {"field": "v", "type": "quantitative", "scale": {"domain": [-37.5, 787.5], "nice": false, "zero": false}, "axis": {"orient": "right", "values": [0,100,200,300,400,500,600,700], "format": "d", "title": null, "labelOverlap": false, "labelFlush": false}}, "y2": {"field": "v2"}}},
    {"data": {"values": [{"v": 750}]}, "mark": {"type": "point", "shape": "M-1,0L1,0L0,-1.8Z", "size": 25, "filled": true, "fill": "#800000", "stroke": "#000", "strokeWidth": 0.6, "opacity": 1}, "encoding": {"y": {"field": "v", "type": "quantitative", "scale": {"domain": [-37.5, 787.5], "nice": false, "zero": false}, "axis": {"orient": "right", "values": [0,100,200,300,400,500,600,700], "format": "d", "title": null, "labelOverlap": false, "labelFlush": false}}}},
    {"data": {"values": [{"v": 0}]}, "mark": {"type": "point", "shape": "M-1,0L1,0L0,1.8Z", "size": 25, "filled": true, "fill": "#000080", "stroke": "#000", "strokeWidth": 0.6, "opacity": 1}, "encoding": {"y": {"field": "v", "type": "quantitative", "scale": {"domain": [-37.5, 787.5], "nice": false, "zero": false}, "axis": {"orient": "right", "values": [0,100,200,300,400,500,600,700], "format": "d", "title": null, "labelOverlap": false, "labelFlush": false}}}}
   ]}
  ]}
 ]},
 {"spacing": 13.3, "resolve": {"scale": {"x": "independent", "y": "independent"}}, "hconcat": [
  {"spacing": 8.5, "bounds": "flush", "resolve": {"scale": {"x": "independent", "y": "independent"}}, "hconcat": [
   {"title": "m5a vs. m6g", "width": 140, "height": 104, "data": {"name": "m5a"},
    "transform": [{"lookup": "b", "from": {"data": {"name": "bands"}, "key": "b", "fields": ["lo", "hi"]}}],
    "mark": {"type": "rect"},
    "encoding": {
     "x": {"field": "p", "type": "nominal", "scale": {"domain": ["ultrafast","superfast","veryfast","faster","fast","medium","slow","slower","veryslow"], "paddingInner": 0, "paddingOuter": 0}, "axis": {"title": null, "labelAngle": 270}},
     "y": {"field": "lo", "type": "quantitative", "scale": {"domain": [100, 20000], "nice": false, "zero": false}, "axis": {"values": [100,2500,5000,7500,10000,12500,15000,17500,20000], "format": "d", "title": "Bitrate [kbps]"}},
     "y2": {"field": "hi"},
     "color": {"field": "v", "type": "quantitative", "scale": {"type": "threshold", "domain": [50,100,150,200,250,300,350,400,450,500,550,600,650,700], "range": ["#0000c8","#0000ff","#0040ff","#0080ff","#00c0ff","#15ffe2","#48ffaf","#7bff7b","#afff48","#e2ff15","#ffd200","#ff9700","#ff5c00","#ff2100","#c80000"]}, "legend": null}
    }},
   {"width": 5, "height": 104, "view": {"stroke": null}, "layer": [
    {"data": {"name": "cbar"}, "mark": {"type": "rect"}, "encoding": {"y": {"field": "v", "type": "quantitative", "scale": {"domain": [-37.5, 787.5], "nice": false, "zero": false}, "axis": {"orient": "right", "values": [0,100,200,300,400,500,600,700], "format": "d", "title": null, "labelOverlap": false, "labelFlush": false}}, "y2": {"field": "v2"}, "color": {"field": "v", "type": "quantitative", "scale": {"type": "threshold", "domain": [50,100,150,200,250,300,350,400,450,500,550,600,650,700], "range": ["#0000c8","#0000ff","#0040ff","#0080ff","#00c0ff","#15ffe2","#48ffaf","#7bff7b","#afff48","#e2ff15","#ffd200","#ff9700","#ff5c00","#ff2100","#c80000"]}, "legend": null}}},
    {"data": {"values": [{"v": 0, "v2": 750}]}, "mark": {"type": "rect", "filled": false, "stroke": "#000", "strokeWidth": 0.6}, "encoding": {"y": {"field": "v", "type": "quantitative", "scale": {"domain": [-37.5, 787.5], "nice": false, "zero": false}, "axis": {"orient": "right", "values": [0,100,200,300,400,500,600,700], "format": "d", "title": null, "labelOverlap": false, "labelFlush": false}}, "y2": {"field": "v2"}}},
    {"data": {"values": [{"v": 750}]}, "mark": {"type": "point", "shape": "M-1,0L1,0L0,-1.8Z", "size": 25, "filled": true, "fill": "#800000", "stroke": "#000", "strokeWidth": 0.6, "opacity": 1}, "encoding": {"y": {"field": "v", "type": "quantitative", "scale": {"domain": [-37.5, 787.5], "nice": false, "zero": false}, "axis": {"orient": "right", "values": [0,100,200,300,400,500,600,700], "format": "d", "title": null, "labelOverlap": false, "labelFlush": false}}}},
    {"data": {"values": [{"v": 0}]}, "mark": {"type": "point", "shape": "M-1,0L1,0L0,1.8Z", "size": 25, "filled": true, "fill": "#000080", "stroke": "#000", "strokeWidth": 0.6, "opacity": 1}, "encoding": {"y": {"field": "v", "type": "quantitative", "scale": {"domain": [-37.5, 787.5], "nice": false, "zero": false}, "axis": {"orient": "right", "values": [0,100,200,300,400,500,600,700], "format": "d", "title": null, "labelOverlap": false, "labelFlush": false}}}}
   ]}
  ]},
  {"spacing": 8.5, "bounds": "flush", "resolve": {"scale": {"x": "independent", "y": "independent"}}, "hconcat": [
   {"title": "c5a vs. c6g", "width": 140, "height": 104, "data": {"name": "c5a"},
    "transform": [{"lookup": "b", "from": {"data": {"name": "bands"}, "key": "b", "fields": ["lo", "hi"]}}],
    "mark": {"type": "rect"},
    "encoding": {
     "x": {"field": "p", "type": "nominal", "scale": {"domain": ["ultrafast","superfast","veryfast","faster","fast","medium","slow","slower","veryslow"], "paddingInner": 0, "paddingOuter": 0}, "axis": {"title": null, "labelAngle": 270}},
     "y": {"field": "lo", "type": "quantitative", "scale": {"domain": [100, 20000], "nice": false, "zero": false}, "axis": {"values": [100,2500,5000,7500,10000,12500,15000,17500,20000], "title": null, "labels": false}},
     "y2": {"field": "hi"},
     "color": {"field": "v", "type": "quantitative", "scale": {"type": "threshold", "domain": [50,100,150,200,250,300,350,400,450,500,550,600,650,700], "range": ["#0000c8","#0000ff","#0040ff","#0080ff","#00c0ff","#15ffe2","#48ffaf","#7bff7b","#afff48","#e2ff15","#ffd200","#ff9700","#ff5c00","#ff2100","#c80000"]}, "legend": null}
    }},
   {"width": 5, "height": 104, "view": {"stroke": null}, "layer": [
    {"data": {"name": "cbar"}, "mark": {"type": "rect"}, "encoding": {"y": {"field": "v", "type": "quantitative", "scale": {"domain": [-37.5, 787.5], "nice": false, "zero": false}, "axis": {"orient": "right", "values": [0,100,200,300,400,500,600,700], "format": "d", "title": null, "labelOverlap": false, "labelFlush": false}}, "y2": {"field": "v2"}, "color": {"field": "v", "type": "quantitative", "scale": {"type": "threshold", "domain": [50,100,150,200,250,300,350,400,450,500,550,600,650,700], "range": ["#0000c8","#0000ff","#0040ff","#0080ff","#00c0ff","#15ffe2","#48ffaf","#7bff7b","#afff48","#e2ff15","#ffd200","#ff9700","#ff5c00","#ff2100","#c80000"]}, "legend": null}}},
    {"data": {"values": [{"v": 0, "v2": 750}]}, "mark": {"type": "rect", "filled": false, "stroke": "#000", "strokeWidth": 0.6}, "encoding": {"y": {"field": "v", "type": "quantitative", "scale": {"domain": [-37.5, 787.5], "nice": false, "zero": false}, "axis": {"orient": "right", "values": [0,100,200,300,400,500,600,700], "format": "d", "title": null, "labelOverlap": false, "labelFlush": false}}, "y2": {"field": "v2"}}},
    {"data": {"values": [{"v": 750}]}, "mark": {"type": "point", "shape": "M-1,0L1,0L0,-1.8Z", "size": 25, "filled": true, "fill": "#800000", "stroke": "#000", "strokeWidth": 0.6, "opacity": 1}, "encoding": {"y": {"field": "v", "type": "quantitative", "scale": {"domain": [-37.5, 787.5], "nice": false, "zero": false}, "axis": {"orient": "right", "values": [0,100,200,300,400,500,600,700], "format": "d", "title": null, "labelOverlap": false, "labelFlush": false}}}},
    {"data": {"values": [{"v": 0}]}, "mark": {"type": "point", "shape": "M-1,0L1,0L0,1.8Z", "size": 25, "filled": true, "fill": "#000080", "stroke": "#000", "strokeWidth": 0.6, "opacity": 1}, "encoding": {"y": {"field": "v", "type": "quantitative", "scale": {"domain": [-37.5, 787.5], "nice": false, "zero": false}, "axis": {"orient": "right", "values": [0,100,200,300,400,500,600,700], "format": "d", "title": null, "labelOverlap": false, "labelFlush": false}}}}
   ]}
  ]},
  {"spacing": 8.5, "bounds": "flush", "resolve": {"scale": {"x": "independent", "y": "independent"}}, "hconcat": [
   {"title": "r5a vs. r6g", "width": 140, "height": 104, "data": {"name": "r5a"},
    "transform": [{"lookup": "b", "from": {"data": {"name": "bands"}, "key": "b", "fields": ["lo", "hi"]}}],
    "mark": {"type": "rect"},
    "encoding": {
     "x": {"field": "p", "type": "nominal", "scale": {"domain": ["ultrafast","superfast","veryfast","faster","fast","medium","slow","slower","veryslow"], "paddingInner": 0, "paddingOuter": 0}, "axis": {"title": null, "labelAngle": 270}},
     "y": {"field": "lo", "type": "quantitative", "scale": {"domain": [100, 20000], "nice": false, "zero": false}, "axis": {"values": [100,2500,5000,7500,10000,12500,15000,17500,20000], "title": null, "labels": false}},
     "y2": {"field": "hi"},
     "color": {"field": "v", "type": "quantitative", "scale": {"type": "threshold", "domain": [50,100,150,200,250,300,350,400,450,500,550,600,650,700], "range": ["#0000c8","#0000ff","#0040ff","#0080ff","#00c0ff","#15ffe2","#48ffaf","#7bff7b","#afff48","#e2ff15","#ffd200","#ff9700","#ff5c00","#ff2100","#c80000"]}, "legend": null}
    }},
   {"width": 5, "height": 104, "view": {"stroke": null}, "layer": [
    {"data": {"name": "cbar"}, "mark": {"type": "rect"}, "encoding": {"y": {"field": "v", "type": "quantitative", "scale": {"domain": [-37.5, 787.5], "nice": false, "zero": false}, "axis": {"orient": "right", "values": [0,100,200,300,400,500,600,700], "format": "d", "title": null, "labelOverlap": false, "labelFlush": false}}, "y2": {"field": "v2"}, "color": {"field": "v", "type": "quantitative", "scale": {"type": "threshold", "domain": [50,100,150,200,250,300,350,400,450,500,550,600,650,700], "range": ["#0000c8","#0000ff","#0040ff","#0080ff","#00c0ff","#15ffe2","#48ffaf","#7bff7b","#afff48","#e2ff15","#ffd200","#ff9700","#ff5c00","#ff2100","#c80000"]}, "legend": null}}},
    {"data": {"values": [{"v": 0, "v2": 750}]}, "mark": {"type": "rect", "filled": false, "stroke": "#000", "strokeWidth": 0.6}, "encoding": {"y": {"field": "v", "type": "quantitative", "scale": {"domain": [-37.5, 787.5], "nice": false, "zero": false}, "axis": {"orient": "right", "values": [0,100,200,300,400,500,600,700], "format": "d", "title": null, "labelOverlap": false, "labelFlush": false}}, "y2": {"field": "v2"}}},
    {"data": {"values": [{"v": 750}]}, "mark": {"type": "point", "shape": "M-1,0L1,0L0,-1.8Z", "size": 25, "filled": true, "fill": "#800000", "stroke": "#000", "strokeWidth": 0.6, "opacity": 1}, "encoding": {"y": {"field": "v", "type": "quantitative", "scale": {"domain": [-37.5, 787.5], "nice": false, "zero": false}, "axis": {"orient": "right", "values": [0,100,200,300,400,500,600,700], "format": "d", "title": null, "labelOverlap": false, "labelFlush": false}}}},
    {"data": {"values": [{"v": 0}]}, "mark": {"type": "point", "shape": "M-1,0L1,0L0,1.8Z", "size": 25, "filled": true, "fill": "#000080", "stroke": "#000", "strokeWidth": 0.6, "opacity": 1}, "encoding": {"y": {"field": "v", "type": "quantitative", "scale": {"domain": [-37.5, 787.5], "nice": false, "zero": false}, "axis": {"orient": "right", "values": [0,100,200,300,400,500,600,700], "format": "d", "title": null, "labelOverlap": false, "labelFlush": false}}}}
   ]}
  ]},
  {"spacing": 8.5, "bounds": "flush", "resolve": {"scale": {"x": "independent", "y": "independent"}}, "hconcat": [
   {"title": "t3a vs. t4g", "width": 140, "height": 104, "data": {"name": "t3a"},
    "transform": [{"lookup": "b", "from": {"data": {"name": "bands"}, "key": "b", "fields": ["lo", "hi"]}}],
    "mark": {"type": "rect"},
    "encoding": {
     "x": {"field": "p", "type": "nominal", "scale": {"domain": ["ultrafast","superfast","veryfast","faster","fast","medium","slow","slower","veryslow"], "paddingInner": 0, "paddingOuter": 0}, "axis": {"title": null, "labelAngle": 270}},
     "y": {"field": "lo", "type": "quantitative", "scale": {"domain": [100, 20000], "nice": false, "zero": false}, "axis": {"values": [100,2500,5000,7500,10000,12500,15000,17500,20000], "title": null, "labels": false}},
     "y2": {"field": "hi"},
     "color": {"field": "v", "type": "quantitative", "scale": {"type": "threshold", "domain": [50,100,150,200,250,300,350,400,450,500,550,600,650,700], "range": ["#0000c8","#0000ff","#0040ff","#0080ff","#00c0ff","#15ffe2","#48ffaf","#7bff7b","#afff48","#e2ff15","#ffd200","#ff9700","#ff5c00","#ff2100","#c80000"]}, "legend": null}
    }},
   {"width": 5, "height": 104, "view": {"stroke": null}, "layer": [
    {"data": {"name": "cbar"}, "mark": {"type": "rect"}, "encoding": {"y": {"field": "v", "type": "quantitative", "scale": {"domain": [-37.5, 787.5], "nice": false, "zero": false}, "axis": {"orient": "right", "values": [0,100,200,300,400,500,600,700], "format": "d", "title": null, "labelOverlap": false, "labelFlush": false}}, "y2": {"field": "v2"}, "color": {"field": "v", "type": "quantitative", "scale": {"type": "threshold", "domain": [50,100,150,200,250,300,350,400,450,500,550,600,650,700], "range": ["#0000c8","#0000ff","#0040ff","#0080ff","#00c0ff","#15ffe2","#48ffaf","#7bff7b","#afff48","#e2ff15","#ffd200","#ff9700","#ff5c00","#ff2100","#c80000"]}, "legend": null}}},
    {"data": {"values": [{"v": 0, "v2": 750}]}, "mark": {"type": "rect", "filled": false, "stroke": "#000", "strokeWidth": 0.6}, "encoding": {"y": {"field": "v", "type": "quantitative", "scale": {"domain": [-37.5, 787.5], "nice": false, "zero": false}, "axis": {"orient": "right", "values": [0,100,200,300,400,500,600,700], "format": "d", "title": null, "labelOverlap": false, "labelFlush": false}}, "y2": {"field": "v2"}}},
    {"data": {"values": [{"v": 750}]}, "mark": {"type": "point", "shape": "M-1,0L1,0L0,-1.8Z", "size": 25, "filled": true, "fill": "#800000", "stroke": "#000", "strokeWidth": 0.6, "opacity": 1}, "encoding": {"y": {"field": "v", "type": "quantitative", "scale": {"domain": [-37.5, 787.5], "nice": false, "zero": false}, "axis": {"orient": "right", "values": [0,100,200,300,400,500,600,700], "format": "d", "title": null, "labelOverlap": false, "labelFlush": false}}}},
    {"data": {"values": [{"v": 0}]}, "mark": {"type": "point", "shape": "M-1,0L1,0L0,1.8Z", "size": 25, "filled": true, "fill": "#000080", "stroke": "#000", "strokeWidth": 0.6, "opacity": 1}, "encoding": {"y": {"field": "v", "type": "quantitative", "scale": {"domain": [-37.5, 787.5], "nice": false, "zero": false}, "axis": {"orient": "right", "values": [0,100,200,300,400,500,600,700], "format": "d", "title": null, "labelOverlap": false, "labelFlush": false}}}}
   ]}
  ]}
 ]}
]
}
